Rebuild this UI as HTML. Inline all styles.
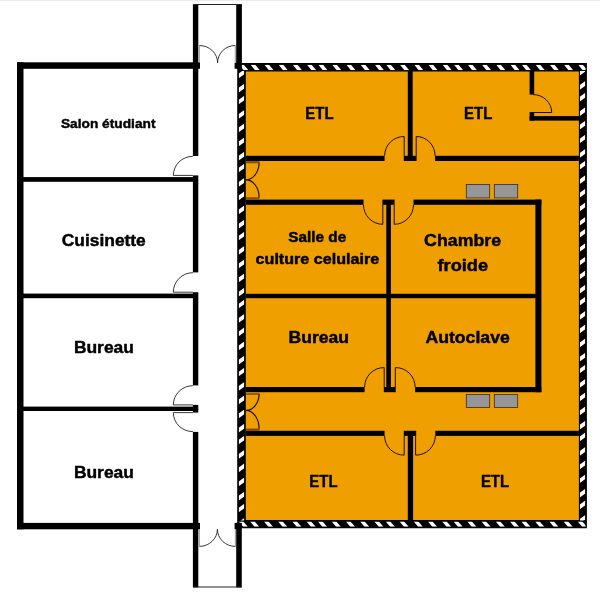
<!DOCTYPE html>
<html lang="fr">
<head>
<meta charset="utf-8">
<title>Plan du laboratoire</title>
<style>
html,body{margin:0;padding:0;background:#fff;}
body{width:600px;height:592px;overflow:hidden;position:relative;}
svg{display:block;position:absolute;left:0;top:0;}
text{font-family:"Liberation Sans",sans-serif;font-weight:bold;fill:#000;stroke:#000;stroke-width:.45px;stroke-linejoin:round;}
#labels{filter:opacity(1);}
</style>
</head>
<body>
<svg width="600" height="592" viewBox="0 0 600 592">
<!-- top light line -->
<rect x="0" y="0" width="600" height="1" fill="#ececec"/>

<!-- ===== orange zone ===== -->
<rect x="240" y="66" width="344" height="460" fill="#ef9f00"/>

<!-- hatched walls -->
<g id="hatched">
  <path d="M237.2 63H586.9V528.2H237.2Z M245.8 71.5V520.1H578.9V71.5Z" fill="#000" fill-rule="evenodd"/>
  <clipPath id="cT"><rect x="238.6" y="64.8" width="347" height="5.4"/></clipPath>
  <clipPath id="cB"><rect x="238.6" y="521.4" width="347" height="5.3"/></clipPath>
  <clipPath id="cL"><rect x="238.7" y="71" width="5.6" height="449.6"/></clipPath>
  <clipPath id="cR"><rect x="579.8" y="71" width="5.5" height="449.6"/></clipPath>
  <g fill="#fff">
  <path clip-path="url(#cT)" d="M239.25 64.8H243.8L248.45 70.2H243.65ZM250.65 64.8H255.2L259.85 70.2H255.05ZM264.45 64.8H269L273.65 70.2H268.85ZM278.65 64.8H283.2L287.85 70.2H283.05ZM292.85 64.8H297.4L302.05 70.2H297.25ZM307.05 64.8H311.6L316.25 70.2H311.45ZM318.45 64.8H323L327.65 70.2H322.85ZM332.25 64.8H336.8L341.45 70.2H336.65ZM346.45 64.8H351L355.65 70.2H350.85ZM360.65 64.8H365.2L369.85 70.2H365.05ZM374.85 64.8H379.4L384.05 70.2H379.25ZM386.25 64.8H390.8L395.45 70.2H390.65ZM400.05 64.8H404.6L409.25 70.2H404.45ZM414.25 64.8H418.8L423.45 70.2H418.65ZM428.45 64.8H433L437.65 70.2H432.85ZM442.65 64.8H447.2L451.85 70.2H447.05ZM454.05 64.8H458.6L463.25 70.2H458.45ZM467.85 64.8H472.4L477.05 70.2H472.25ZM482.05 64.8H486.6L491.25 70.2H486.45ZM496.25 64.8H500.8L505.45 70.2H500.65ZM510.45 64.8H515L519.65 70.2H514.85ZM521.85 64.8H526.4L531.05 70.2H526.25ZM535.65 64.8H540.2L544.85 70.2H540.05ZM549.85 64.8H554.4L559.05 70.2H554.25ZM564.05 64.8H568.6L573.25 70.2H568.45ZM578.25 64.8H582.8L587.45 70.2H582.65Z"/>
  <path clip-path="url(#cB)" d="M238.7 521.4H243.25L247.9 526.7H243.1ZM250.1 521.4H254.65L259.3 526.7H254.5ZM263.9 521.4H268.45L273.1 526.7H268.3ZM278.1 521.4H282.65L287.3 526.7H282.5ZM292.3 521.4H296.85L301.5 526.7H296.7ZM306.5 521.4H311.05L315.7 526.7H310.9ZM317.9 521.4H322.45L327.1 526.7H322.3ZM331.7 521.4H336.25L340.9 526.7H336.1ZM345.9 521.4H350.45L355.1 526.7H350.3ZM360.1 521.4H364.65L369.3 526.7H364.5ZM374.3 521.4H378.85L383.5 526.7H378.7ZM385.7 521.4H390.25L394.9 526.7H390.1ZM399.5 521.4H404.05L408.7 526.7H403.9ZM413.7 521.4H418.25L422.9 526.7H418.1ZM427.9 521.4H432.45L437.1 526.7H432.3ZM442.1 521.4H446.65L451.3 526.7H446.5ZM453.5 521.4H458.05L462.7 526.7H457.9ZM467.3 521.4H471.85L476.5 526.7H471.7ZM481.5 521.4H486.05L490.7 526.7H485.9ZM495.7 521.4H500.25L504.9 526.7H500.1ZM509.9 521.4H514.45L519.1 526.7H514.3ZM521.3 521.4H525.85L530.5 526.7H525.7ZM535.1 521.4H539.65L544.3 526.7H539.5ZM549.3 521.4H553.85L558.5 526.7H553.7ZM563.5 521.4H568.05L572.7 526.7H567.9ZM577.7 521.4H582.25L586.9 526.7H582.1Z"/>
  <path clip-path="url(#cL)" d="M238.7 73.47L244.3 69.43V74.13L238.7 78.17ZM238.7 87.77L244.3 83.73V88.43L238.7 92.47ZM238.7 99.67L244.3 95.63V100.33L238.7 104.37ZM238.7 114.07L244.3 110.03V114.73L238.7 118.77ZM238.7 127.57L244.3 123.53V128.23L238.7 132.27ZM238.7 141.47L244.3 137.43V142.13L238.7 146.17ZM238.7 155.77L244.3 151.73V156.43L238.7 160.47ZM238.7 167.67L244.3 163.63V168.33L238.7 172.37ZM238.7 182.07L244.3 178.03V182.73L238.7 186.77ZM238.7 195.57L244.3 191.53V196.23L238.7 200.27ZM238.7 209.47L244.3 205.43V210.13L238.7 214.17ZM238.7 223.77L244.3 219.73V224.43L238.7 228.47ZM238.7 235.67L244.3 231.63V236.33L238.7 240.37ZM238.7 250.07L244.3 246.03V250.73L238.7 254.77ZM238.7 263.57L244.3 259.53V264.23L238.7 268.27ZM238.7 277.47L244.3 273.43V278.13L238.7 282.17ZM238.7 291.77L244.3 287.73V292.43L238.7 296.47ZM238.7 303.67L244.3 299.63V304.33L238.7 308.37ZM238.7 318.07L244.3 314.03V318.73L238.7 322.77ZM238.7 331.57L244.3 327.53V332.23L238.7 336.27ZM238.7 345.47L244.3 341.43V346.13L238.7 350.17ZM238.7 359.77L244.3 355.73V360.43L238.7 364.47ZM238.7 371.67L244.3 367.63V372.33L238.7 376.37ZM238.7 386.07L244.3 382.03V386.73L238.7 390.77ZM238.7 399.57L244.3 395.53V400.23L238.7 404.27ZM238.7 413.47L244.3 409.43V414.13L238.7 418.17ZM238.7 427.77L244.3 423.73V428.43L238.7 432.47ZM238.7 439.67L244.3 435.63V440.33L238.7 444.37ZM238.7 454.07L244.3 450.03V454.73L238.7 458.77ZM238.7 467.57L244.3 463.53V468.23L238.7 472.27ZM238.7 481.47L244.3 477.43V482.13L238.7 486.17ZM238.7 495.77L244.3 491.73V496.43L238.7 500.47ZM238.7 507.67L244.3 503.63V508.33L238.7 512.37ZM238.7 522.07L244.3 518.03V522.73L238.7 526.77Z"/>
  <path clip-path="url(#cR)" d="M579.8 70.68L585.3 66.72V71.42L579.8 75.38ZM579.8 84.98L585.3 81.02V85.72L579.8 89.68ZM579.8 96.83L585.3 92.87V97.57L579.8 101.53ZM579.8 111.23L585.3 107.27V111.97L579.8 115.93ZM579.8 124.73L585.3 120.77V125.47L579.8 129.43ZM579.8 138.63L585.3 134.67V139.37L579.8 143.33ZM579.8 152.93L585.3 148.97V153.67L579.8 157.63ZM579.8 164.78L585.3 160.82V165.52L579.8 169.48ZM579.8 179.18L585.3 175.22V179.92L579.8 183.88ZM579.8 192.68L585.3 188.72V193.42L579.8 197.38ZM579.8 206.58L585.3 202.62V207.32L579.8 211.28ZM579.8 220.88L585.3 216.92V221.62L579.8 225.58ZM579.8 232.73L585.3 228.77V233.47L579.8 237.43ZM579.8 247.13L585.3 243.17V247.87L579.8 251.83ZM579.8 260.63L585.3 256.67V261.37L579.8 265.33ZM579.8 274.53L585.3 270.57V275.27L579.8 279.23ZM579.8 288.83L585.3 284.87V289.57L579.8 293.53ZM579.8 300.68L585.3 296.72V301.42L579.8 305.38ZM579.8 315.08L585.3 311.12V315.82L579.8 319.78ZM579.8 328.58L585.3 324.62V329.32L579.8 333.28ZM579.8 342.48L585.3 338.52V343.22L579.8 347.18ZM579.8 356.78L585.3 352.82V357.52L579.8 361.48ZM579.8 368.63L585.3 364.67V369.37L579.8 373.33ZM579.8 383.03L585.3 379.07V383.77L579.8 387.73ZM579.8 396.53L585.3 392.57V397.27L579.8 401.23ZM579.8 410.43L585.3 406.47V411.17L579.8 415.13ZM579.8 424.73L585.3 420.77V425.47L579.8 429.43ZM579.8 436.58L585.3 432.62V437.32L579.8 441.28ZM579.8 450.98L585.3 447.02V451.72L579.8 455.68ZM579.8 464.48L585.3 460.52V465.22L579.8 469.18ZM579.8 478.38L585.3 474.42V479.12L579.8 483.08ZM579.8 492.68L585.3 488.72V493.42L579.8 497.38ZM579.8 504.53L585.3 500.57V505.27L579.8 509.23ZM579.8 518.93L585.3 514.97V519.67L579.8 523.63Z"/>
  </g>
</g>

<!-- ===== left building walls ===== -->
<g fill="#000">
  <rect x="17" y="62.3" width="6.5" height="467"/>
  <rect x="17" y="62.3" width="183" height="6.5"/>
  <rect x="17" y="522.9" width="183" height="6.4"/>
  <rect x="17" y="177.1" width="178" height="4.7"/>
  <rect x="17" y="293.6" width="178" height="4.6"/>
  <rect x="17" y="406.6" width="178" height="4.4"/>
  <!-- corridor left wall segments -->
  <rect x="192.9" y="4" width="5.4" height="152"/>
  <rect x="192.9" y="175.4" width="5.4" height="97"/>
  <rect x="192.9" y="292.2" width="5.4" height="93.2"/>
  <rect x="192.9" y="404.9" width="5.4" height="7.7"/>
  <rect x="192.9" y="431.9" width="5.4" height="155.5"/>
  <!-- corridor right wall (top and bottom stubs) -->
  <rect x="236.2" y="4" width="5.7" height="64.8"/>
  <rect x="234.6" y="62.8" width="4" height="5.9"/>
  <rect x="236.2" y="522.8" width="5.6" height="64.6"/>
  <rect x="234.6" y="522.9" width="4" height="6.4"/>
</g>
<!-- corridor end caps -->
<path d="M193 4.5H241.8 M193 587H241.8" stroke="#222" stroke-width="1" fill="none"/>

<!-- left building doors -->
<g fill="none" stroke="#222" stroke-width="0.9">
  <path d="M192.9 156.3A19.5 19.3 0 0 0 173.3 175.4H192.9"/>
  <path d="M192.9 272.7A19.5 19.6 0 0 0 173.3 292.2H192.9"/>
  <path d="M192.9 385.7A19.5 19.3 0 0 0 173.3 404.9H192.9"/>
  <path d="M192.9 431.6A19.5 19 0 0 1 173.3 412.6H192.9"/>
  <!-- corridor double doors top -->
  <path d="M199.4 45.5A18.2 17.3 0 0 1 217.6 62.8"/>
  <path d="M235.2 45.5A17.6 17.3 0 0 0 217.6 62.8"/>
  <!-- corridor double doors bottom -->
  <path d="M199.4 546.4A18 17.3 0 0 0 217.4 529.3"/>
  <path d="M235.3 546.4A17.9 17.3 0 0 1 217.4 529.3"/>
</g>
<path d="M199.3 62.8V45.3 M235.3 62.8V45.3 M199.3 529.3V546.6 M235.4 529.3V546.6" stroke="#8c8c8c" stroke-width="0.9" fill="none"/>

<!-- ===== inner walls of orange zone ===== -->
<g fill="#000">
  <!-- wall A y 155.8-161 -->
  <rect x="245.8" y="155.8" width="138.8" height="5.2"/>
  <rect x="403.8" y="155.8" width="12.8" height="5.2"/>
  <rect x="435.1" y="155.8" width="143.8" height="5.2"/>
  <!-- vertical ETL top -->
  <rect x="407.8" y="71" width="4.9" height="88"/>
  <!-- closet -->
  <rect x="529.6" y="71" width="4.6" height="23.6"/>
  <rect x="529.6" y="112.1" width="4.6" height="8.5"/>
  <rect x="529.6" y="116.1" width="49.5" height="4.5"/>
  <!-- wall B y 199.6-204.8 -->
  <rect x="245.8" y="199.6" width="117.7" height="5.2"/>
  <rect x="382.4" y="199.6" width="12.2" height="5.2"/>
  <rect x="413.5" y="199.6" width="127.9" height="5.2"/>
  <!-- inner room right wall -->
  <rect x="535.4" y="199.6" width="6" height="192.6"/>
  <!-- central vertical -->
  <rect x="386.3" y="200" width="4.6" height="190"/>
  <!-- middle horizontal -->
  <rect x="245.8" y="293.8" width="290" height="4.4"/>
  <!-- wall C y 387-392.2 -->
  <rect x="245.8" y="387" width="118.8" height="5.2"/>
  <rect x="383.8" y="387" width="11.9" height="5.2"/>
  <rect x="415.1" y="387" width="126.3" height="5.2"/>
  <!-- wall D y 430.8-435.9 -->
  <rect x="245.8" y="430.8" width="138.8" height="5.1"/>
  <rect x="403.8" y="430.8" width="12.4" height="5.1"/>
  <rect x="435.3" y="430.8" width="143.6" height="5.1"/>
  <!-- vertical ETL bottom -->
  <rect x="407.8" y="432" width="5.3" height="88.5"/>
</g>

<!-- inner doors -->
<g fill="none" stroke="#1e0c00" stroke-width="1">
  <path d="M384.6 155.8A19.4 19.3 0 0 1 404.2 136.5V155.8"/>
  <path d="M435.1 155.8A18.7 19.3 0 0 0 416.2 136.5V155.8"/>
  <path d="M363.5 204.8A19.2 19.5 0 0 0 382.8 224.3V204.8"/>
  <path d="M413.5 204.8A19.2 19.5 0 0 1 394.2 224.3V204.8"/>
  <path d="M364.6 387A19.4 19.4 0 0 1 384.2 367.6V387"/>
  <path d="M415.1 387A19.4 19.4 0 0 0 395.3 367.6V387"/>
  <path d="M384.6 435.9A19.4 19.2 0 0 0 404.2 455.1V435.9"/>
  <path d="M435.3 435.9A19.4 19.2 0 0 1 415.6 455.1V435.9"/>
  <!-- closet door -->
  <path d="M533 94.6A18.6 17.8 0 0 1 551.7 112.5H534"/>
  <!-- left-wall double doors -->
  <path stroke-width="1.15" d="M259.1 162.6A13.2 17.2 0 0 1 245.9 179.8A13.2 17.6 0 0 1 259.1 197.6"/>
  <path stroke-width="1.15" d="M259.1 394A13.2 16.3 0 0 1 245.9 410.3A13.2 18.6 0 0 1 259.1 429"/>
</g>
<g fill="#8a4c00">
  <rect x="245.8" y="161.1" width="13.6" height="2.2"/>
  <rect x="245.8" y="197.2" width="13.6" height="2.3"/>
  <rect x="245.8" y="428.6" width="13.6" height="2.2" fill="#8e3a08"/>
  <rect x="245.8" y="393.5" width="13.6" height="1" fill="#3a1800"/>
</g>

<!-- gray boxes -->
<g fill="#969696" stroke="#3a2a2a" stroke-width="0.8">
  <rect x="466.3" y="184.5" width="23.4" height="13.4"/>
  <rect x="494.3" y="184.5" width="23.4" height="13.4"/>
  <rect x="466.3" y="394.4" width="23.4" height="13.1"/>
  <rect x="494.3" y="394.4" width="23.4" height="13.1"/>
</g>

<!-- ===== labels ===== -->
<g id="labels">
  <text x="60.9" y="128.2" font-size="13.5" textLength="94.6" lengthAdjust="spacingAndGlyphs">Salon étudiant</text>
  <text x="61.8" y="246.4" font-size="17" textLength="84" lengthAdjust="spacingAndGlyphs">Cuisinette</text>
  <text x="73.9" y="352.8" font-size="17" textLength="60" lengthAdjust="spacingAndGlyphs">Bureau</text>
  <text x="73.9" y="477.8" font-size="17" textLength="60" lengthAdjust="spacingAndGlyphs">Bureau</text>
  <text x="305.3" y="118.75" font-size="17" textLength="28.2" lengthAdjust="spacingAndGlyphs">ETL</text>
  <text x="464.1" y="118.75" font-size="17" textLength="28.2" lengthAdjust="spacingAndGlyphs">ETL</text>
  <text x="309.3" y="487.15" font-size="17" textLength="28.2" lengthAdjust="spacingAndGlyphs">ETL</text>
  <text x="480.9" y="487.15" font-size="17" textLength="28.2" lengthAdjust="spacingAndGlyphs">ETL</text>
  <text x="288.2" y="242.4" font-size="15.1" textLength="58" lengthAdjust="spacingAndGlyphs">Salle de</text>
  <text x="255.6" y="264.1" font-size="15.1" textLength="123.6" lengthAdjust="spacingAndGlyphs">culture celulaire</text>
  <text x="424.1" y="245.9" font-size="17" textLength="77" lengthAdjust="spacingAndGlyphs">Chambre</text>
  <text x="437.5" y="270.7" font-size="17" textLength="50.6" lengthAdjust="spacingAndGlyphs">froide</text>
  <text x="288.6" y="343.3" font-size="17" textLength="60.4" lengthAdjust="spacingAndGlyphs">Bureau</text>
  <text x="425.4" y="343.3" font-size="17" textLength="84.4" lengthAdjust="spacingAndGlyphs">Autoclave</text>
</g>
</svg>
</body>
</html>
